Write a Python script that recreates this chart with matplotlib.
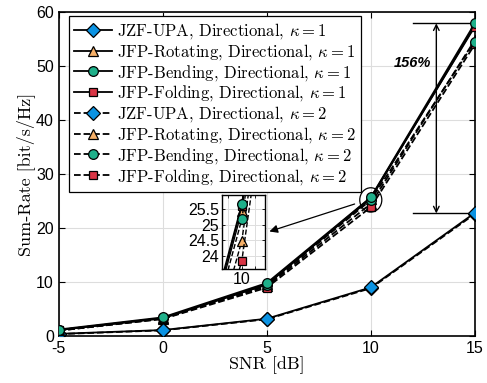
import numpy as np
import matplotlib.pyplot as plt
from matplotlib.patches import Ellipse

plt.rcParams['mathtext.fontset'] = 'cm'
plt.rcParams['axes.unicode_minus'] = False
plt.rcParams['font.family'] = ['Liberation Sans', 'DejaVu Sans']

# ---- data ----
snr = [-5, 0, 5, 10, 15]

jzf_k1 = [0.40, 1.10, 3.20, 9.00, 22.8]
rot_k1 = [1.10, 3.30, 9.60, 25.45, 57.5]
bend_k1 = [1.20, 3.45, 9.80, 25.67, 57.9]
fold_k1 = [1.10, 3.30, 9.50, 25.60, 57.3]

jzf_k2 = [0.35, 1.05, 3.10, 8.85, 22.6]
rot_k2 = [1.00, 3.20, 9.20, 24.49, 54.8]
bend_k2 = [1.05, 3.30, 9.40, 25.18, 54.5]
fold_k2 = [1.00, 3.15, 8.95, 23.85, 54.0]

names = ['JZF-UPA', 'JFP-Rotating', 'JFP-Bending', 'JFP-Folding']
markers = ['D', '^', 'o', 's']
msizes = [7.5, 7, 7, 6]
colors = ['#0b93e3', '#f6b068', '#1fb08a', '#d93545']
zorders = [3, 3, 5, 4]
series = {1: [jzf_k1, rot_k1, bend_k1, fold_k1],
          2: [jzf_k2, rot_k2, bend_k2, fold_k2]}
styles = {1: '-', 2: '--'}

fig = plt.figure(figsize=(4.87, 3.83), dpi=100)
ax = fig.add_axes([0.1205, 0.1227, 0.8545, 0.846])


def draw(a, ms_scale=1.0, lw=1.3, label=True):
    for k in [1, 2]:
        for i in range(4):
            a.plot(snr, series[k][i], linestyle=styles[k], color='black', linewidth=lw,
                   marker=markers[i], markersize=msizes[i] * ms_scale,
                   markerfacecolor=colors[i], markeredgecolor='black', markeredgewidth=0.9,
                   zorder=zorders[i] + (0 if k == 1 else -1),
                   label=(f'{names[i]}, Directional, $\\kappa = {k}$' if label else None))


draw(ax)
ax.set_xlim(-5, 15)
ax.set_ylim(0, 60)
ax.set_xticks([-5, 0, 5, 10, 15])
ax.set_yticks([0, 10, 20, 30, 40, 50, 60])
ax.tick_params(direction='in', top=True, right=True, labelsize=11.5, length=4, width=0.8)
ax.grid(True, color='#dddddd', linewidth=0.8)
ax.set_axisbelow(True)
for s in ax.spines.values():
    s.set_linewidth(1.2)
ax.set_xlabel('SNR [dB]', fontfamily='cmr10', fontsize=13, labelpad=0)
ax.set_ylabel('Sum-Rate [bit/s/Hz]', fontfamily='cmr10', fontsize=13, labelpad=1)

leg = ax.legend(loc='upper left', bbox_to_anchor=(0.024, 0.987), prop={'family': 'cmr10', 'size': 12},
                handlelength=2.3, handletextpad=0.3, labelspacing=0.05, borderpad=0.3,
                borderaxespad=0, fancybox=False, framealpha=1, edgecolor='black')
leg.get_frame().set_linewidth(0.9)

# zoom region marker and arrow to inset
ax.add_patch(Ellipse((10, 25.2), 1.06, 4.5, fill=False, edgecolor='black', linewidth=0.9, zorder=6))
ax.annotate('', xy=(5.0, 19.2), xytext=(9.35, 24.6),
            arrowprops=dict(arrowstyle='-|>', color='black', lw=0.9, mutation_scale=12))

# gain indicator
ax.plot([12.05, 15], [57.9, 57.9], color='black', lw=1.0, zorder=2)
ax.plot([12.05, 15], [22.7, 22.7], color='black', lw=1.0, zorder=2)
ax.annotate('', xy=(13.15, 57.9), xytext=(13.15, 22.7),
            arrowprops=dict(arrowstyle='<->', color='black', lw=1.0, mutation_scale=10,
                            shrinkA=0, shrinkB=0))
ax.text(12.0, 50.6, '156%', fontsize=10.5, fontweight='bold', fontstyle='italic',
        ha='center', va='center')

# inset
axin = fig.add_axes([0.456, 0.2977, 0.0883, 0.193])
draw(axin, ms_scale=1.0, lw=1.0, label=False)
axin.set_xlim(9.26, 10.87)
axin.set_ylim(23.585, 25.95)
axin.set_xticks([9.5, 10, 10.5])
axin.set_xticklabels(['', '10', ''])
axin.set_yticks([24, 24.5, 25, 25.5])
axin.set_yticklabels(['24', '24.5', '25', '25.5'])
axin.tick_params(direction='in', top=True, right=True, labelsize=11.5, length=2, width=0.6, pad=2)
axin.grid(True, color='#dddddd', linewidth=0.7)
axin.set_axisbelow(True)
for s in axin.spines.values():
    s.set_linewidth(1.0)

fig.savefig('out.png', dpi=100)
